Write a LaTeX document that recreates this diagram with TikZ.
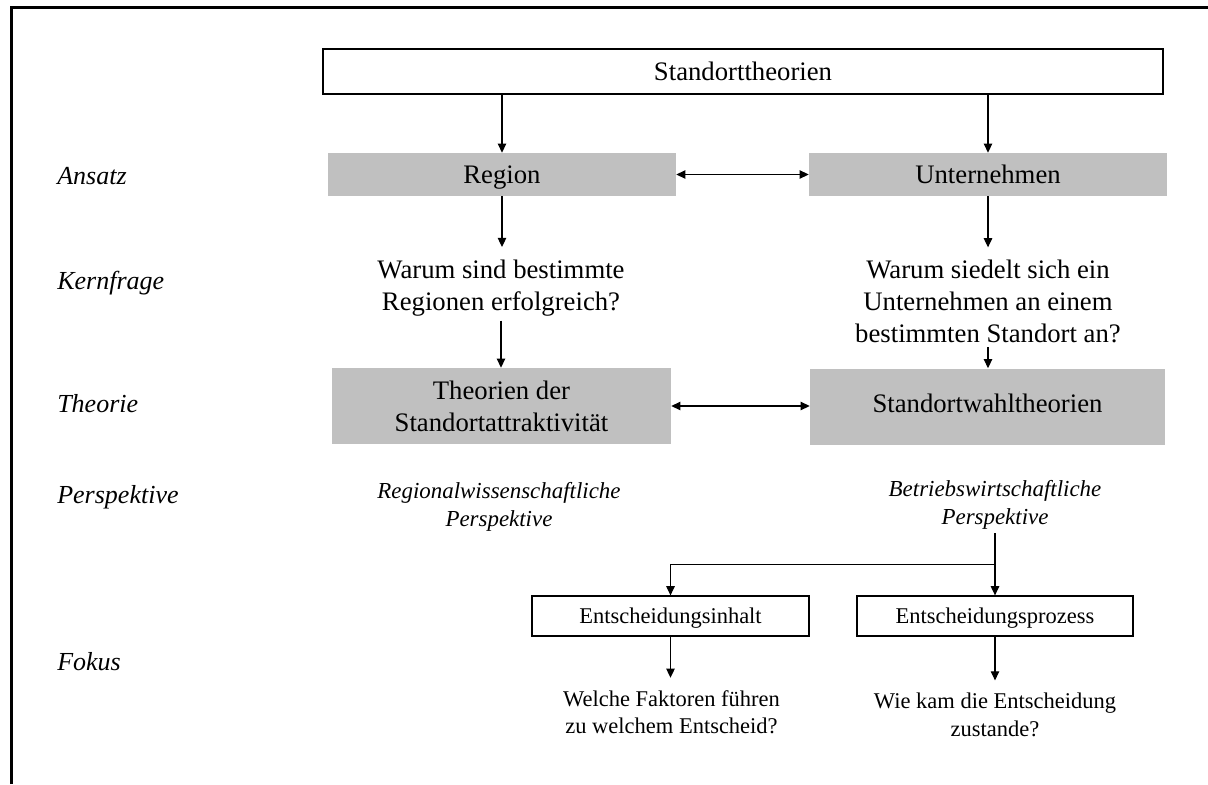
\documentclass[tikz,border=0pt]{standalone}
\usepackage{fontspec}
\setmainfont{Liberation Serif}
\usetikzlibrary{arrows.meta,calc}
\definecolor{boxGray}{RGB}{192,192,192}

\begin{document}
\begin{tikzpicture}[
        arr/.style={-{Triangle[length=6.5pt,width=6pt]}, line width=0.8pt},
        biarr/.style={{Triangle[length=6.5pt,width=6pt]}-{Triangle[length=6.5pt,width=6pt]}, line width=0.8pt},
        outline/.style={rectangle, draw, line width=0.9pt, fill=white, font=\fontsize{19}{22.6}\selectfont},
        graybox/.style={rectangle, fill=boxGray, text height=13pt, text depth=0pt, font=\fontsize{19}{22.6}\selectfont},
        question/.style={align=center, inner sep=3pt, font=\fontsize{19}{22.6}\selectfont},
        view/.style={align=center, inner sep=3pt, font=\fontsize{16.3}{19.8}\selectfont\itshape},
        focusbox/.style={rectangle, draw, line width=0.9pt, minimum height=1cm, text height=10.9pt, text depth=0pt, font=\fontsize{16}{19}\selectfont},
        answer/.style={align=center, inner sep=3pt, font=\fontsize{16}{19.5}\selectfont},
        rowlabel/.style={anchor=base west, inner sep=0pt, font=\fontsize{18.5}{22}\selectfont\itshape}
    ]
        \useasboundingbox (0,0) rectangle (30.2,-19.6);
        \draw[line width=1.5pt] (0.2875,-19.6) |- (30.2,-0.1875);

        \node[rowlabel] (ansatz) at (1.425,-4.6) {Ansatz};
        \node[rowlabel] (kernfrage) at (1.425,-7.225) {Kernfrage};
        \node[rowlabel] (theorie) at (1.425,-10.3) {Theorie};
        \node[rowlabel] (perspektive) at (1.425,-12.575) {Perspektive};
        \node[rowlabel] (fokus) at (1.425,-16.75) {Fokus};

        \node[outline, minimum width=21cm, minimum height=1.125cm] (top) at (18.575,-1.7875) {Standorttheorien};
        \node[graybox, minimum width=8.7cm, minimum height=1.075cm] (region) at (12.55,-4.3625) {Region};
        \node[graybox, minimum width=8.95cm, minimum height=1.075cm] (firm) at (24.7,-4.3625) {Unternehmen};
        \node[question] (q1) at (12.525,-7.2) {Warum sind bestimmte\\Regionen erfolgreich?};
        \node[question] (q2) at (24.7,-7.5375) {Warum siedelt sich ein\\Unternehmen an einem\\bestimmten Standort an?};
        \node[graybox, text height=, text depth=, align=center, minimum width=8.475cm, minimum height=1.9cm] (th1) at (12.5375,-10.15) {Theorien der\\Standortattraktivität};
        \node[graybox, text depth=3.8pt, minimum width=8.875cm, minimum height=1.9cm] (th2) at (24.6875,-10.1625) {Standortwahltheorien};
        \node[view] (p1) at (12.475,-12.6625) {Regionalwissenschaftliche\\Perspektive};
        \node[view] (p2) at (24.875,-12.6125) {Betriebswirtschaftliche\\Perspektive};
        \node[focusbox, minimum width=6.925cm] (e1) at (16.7625,-15.4) {Entscheidungsinhalt};
        \node[focusbox, minimum width=6.9cm] (e2) at (24.875,-15.4) {Entscheidungsprozess};
        \node[answer] (f1) at (16.7875,-17.8125) {Welche Faktoren führen\\zu welchem Entscheid?};
        \node[answer] (f2) at (24.875,-17.875) {Wie kam die Entscheidung\\zustande?};

        \draw[arr] (top.south -| region.north) -- (region.north);
        \draw[arr] (top.south -| firm.north) -- (firm.north);
        \draw[biarr] (region.east) -- (firm.west);
        \draw[arr, shorten >=6pt] (region.south) -- (region.south |- q1.north);
        \draw[arr, shorten >=6pt] (firm.south) -- (firm.south |- q2.north);
        \draw[arr] (q1.south) -- (q1.south |- th1.north);
        \draw[arr] (q2.south) -- (q2.south |- th2.north);
        \draw[biarr] (th1.east) -- (th1.east -| th2.west);
        \coordinate (fork) at ($(p2.south)!0.5!(e2.north)$);
        \draw[arr] (p2.south) -- (p2.south |- e2.north);
        \draw[arr] (fork) -| (e1.north);
        \draw[arr, shorten >=6pt] (e1.south) -- (e1.south |- f1.north);
        \draw[arr, shorten >=6pt] (e2.south) -- (e2.south |- f2.north);
    \end{tikzpicture}
\end{document}
